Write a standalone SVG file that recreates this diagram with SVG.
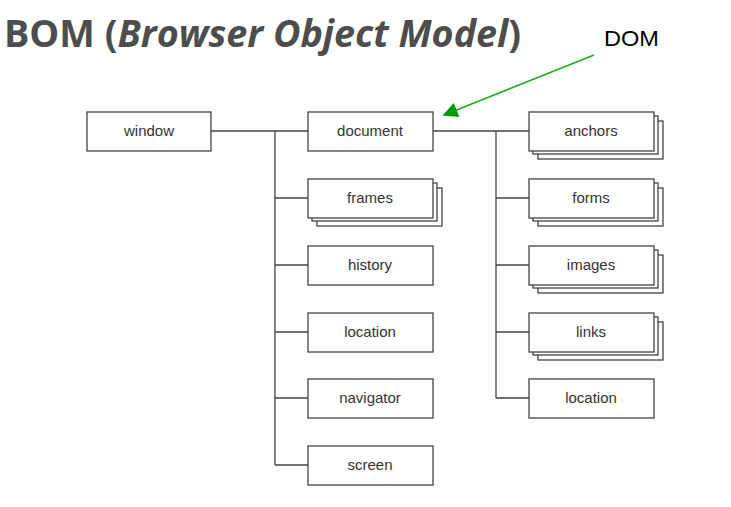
<svg xmlns="http://www.w3.org/2000/svg" width="731" height="507" viewBox="0 0 731 507">
<style>
.box{fill:#fff;stroke:#444;stroke-width:1.3}
.lbl{font-family:"Liberation Sans",Arial,sans-serif;font-size:15px;fill:#333;text-anchor:middle}
.ln{stroke:#444;stroke-width:1.3;fill:none}
</style>
<defs>
<marker id="ah" viewBox="0 0 10 10" refX="9" refY="5" markerWidth="22" markerHeight="15" markerUnits="userSpaceOnUse" orient="auto"><path d="M0,0 L10,5 L0,10 z" fill="#009900"/></marker>
</defs>
<rect width="731" height="507" fill="#fff"/>
<text x="4" y="47" font-family="'Open Sans',sans-serif" font-weight="bold" font-size="37.7" fill="#4d4d4d">BOM (<tspan font-style="italic">Browser Object Model</tspan>)</text>
<text x="604" y="46" font-family="'Liberation Sans',Arial,sans-serif" font-size="22" fill="#000" textLength="55" lengthAdjust="spacingAndGlyphs">DOM</text>
<g id="connectors">
<path class="ln" d="M211,131 H308 M275,131 V465 M275,198 H308 M275,265 H308 M275,332 H308 M275,398 H308 M275,465 H308"/>
<path class="ln" d="M433,131 H529 M496,131 V398 M496,198 H529 M496,265 H529 M496,332 H529 M496,398 H529"/>
<line x1="594" y1="55" x2="444" y2="115" stroke="#22aa22" stroke-width="1.5" marker-end="url(#ah)"/>
</g>
<g id="window"><rect class="box" x="87" y="112" width="124" height="39"/><text class="lbl" x="149" y="136">window</text></g>
<g id="document"><rect class="box" x="308" y="112" width="125" height="39"/><text class="lbl" x="370" y="136">document</text></g>
<g id="frames"><rect class="box" x="317" y="188" width="125" height="38"/><rect class="box" x="312" y="183" width="125" height="38"/><rect class="box" x="308" y="179" width="125" height="39"/><text class="lbl" x="370" y="203">frames</text></g>
<g id="history"><rect class="box" x="308" y="246" width="125" height="39"/><text class="lbl" x="370" y="270">history</text></g>
<g id="location1"><rect class="box" x="308" y="313" width="125" height="39"/><text class="lbl" x="370" y="337">location</text></g>
<g id="navigator"><rect class="box" x="308" y="379" width="125" height="39"/><text class="lbl" x="370" y="403">navigator</text></g>
<g id="screen"><rect class="box" x="308" y="446" width="125" height="39"/><text class="lbl" x="370" y="470">screen</text></g>
<g id="anchors"><rect class="box" x="538" y="121" width="125" height="38"/><rect class="box" x="533" y="116" width="125" height="38"/><rect class="box" x="529" y="112" width="125" height="39"/><text class="lbl" x="591" y="136">anchors</text></g>
<g id="forms"><rect class="box" x="538" y="188" width="125" height="38"/><rect class="box" x="533" y="183" width="125" height="38"/><rect class="box" x="529" y="179" width="125" height="39"/><text class="lbl" x="591" y="203">forms</text></g>
<g id="images"><rect class="box" x="538" y="255" width="125" height="38"/><rect class="box" x="533" y="250" width="125" height="38"/><rect class="box" x="529" y="246" width="125" height="39"/><text class="lbl" x="591" y="270">images</text></g>
<g id="links"><rect class="box" x="538" y="322" width="125" height="38"/><rect class="box" x="533" y="317" width="125" height="38"/><rect class="box" x="529" y="313" width="125" height="39"/><text class="lbl" x="591" y="337">links</text></g>
<g id="location2"><rect class="box" x="529" y="379" width="125" height="39"/><text class="lbl" x="591" y="403">location</text></g>
</svg>
